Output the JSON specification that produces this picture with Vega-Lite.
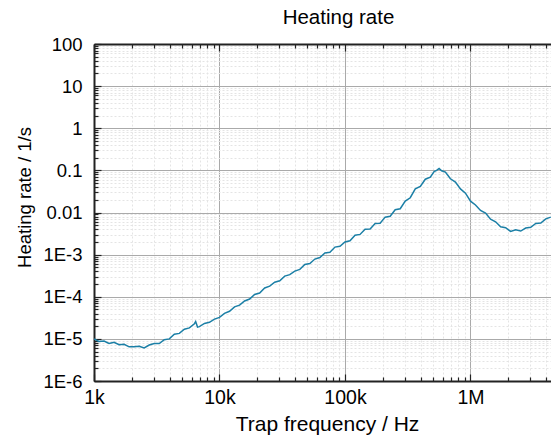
{
  "$schema": "https://vega.github.io/schema/vega-lite/v6.json",
  "width": 457,
  "height": 337,
  "autosize": {"type": "none"},
  "padding": {"left": 94, "top": 44, "right": 0, "bottom": 56},
  "background": "white",
  "title": {"text": "Heating rate", "font": "Liberation Sans", "fontSize": 20.5, "fontWeight": "normal", "color": "#000000", "anchor": "middle", "frame": "group", "dx": 16, "offset": 7},
  "config": {"view": {"stroke": null}},
  "data": {"values": [
    {"f": 1000, "r": 1.0e-5}, {"f": 1096, "r": 8.71e-6}, {"f": 1202, "r": 8.91e-6}, {"f": 1318, "r": 7.76e-6},
    {"f": 1445, "r": 8.32e-6}, {"f": 1585, "r": 7.24e-6}, {"f": 1738, "r": 7.41e-6}, {"f": 1905, "r": 6.46e-6},
    {"f": 2089, "r": 6.46e-6}, {"f": 2291, "r": 6.68e-6}, {"f": 2512, "r": 6.10e-6}, {"f": 2754, "r": 7.16e-6},
    {"f": 3020, "r": 7.76e-6}, {"f": 3311, "r": 7.76e-6}, {"f": 3631, "r": 9.55e-6}, {"f": 3981, "r": 1.0e-5},
    {"f": 4365, "r": 1.29e-5}, {"f": 4786, "r": 1.35e-5}, {"f": 5248, "r": 1.70e-5}, {"f": 5754, "r": 1.82e-5},
    {"f": 6310, "r": 2.29e-5}, {"f": 6457, "r": 2.57e-5}, {"f": 6683, "r": 1.91e-5}, {"f": 6918, "r": 1.95e-5},
    {"f": 7586, "r": 2.32e-5}, {"f": 8318, "r": 2.48e-5}, {"f": 9120, "r": 2.95e-5}, {"f": 10000, "r": 3.24e-5},
    {"f": 10960, "r": 4.03e-5}, {"f": 12020, "r": 4.52e-5}, {"f": 13180, "r": 5.75e-5}, {"f": 14450, "r": 6.31e-5},
    {"f": 15850, "r": 7.94e-5}, {"f": 17380, "r": 8.81e-5}, {"f": 19050, "r": 1.135e-4}, {"f": 20890, "r": 1.23e-4},
    {"f": 22910, "r": 1.62e-4}, {"f": 25120, "r": 1.78e-4}, {"f": 27540, "r": 2.21e-4}, {"f": 30200, "r": 2.40e-4},
    {"f": 33110, "r": 3.09e-4}, {"f": 36310, "r": 3.35e-4}, {"f": 39810, "r": 4.07e-4}, {"f": 43650, "r": 4.47e-4},
    {"f": 47860, "r": 5.82e-4}, {"f": 52480, "r": 6.17e-4}, {"f": 57540, "r": 7.85e-4}, {"f": 63100, "r": 8.51e-4},
    {"f": 69180, "r": 1.096e-3}, {"f": 75860, "r": 1.135e-3}, {"f": 83180, "r": 1.51e-3}, {"f": 91200, "r": 1.585e-3},
    {"f": 100000, "r": 2.0e-3}, {"f": 109600, "r": 2.14e-3}, {"f": 120200, "r": 2.88e-3}, {"f": 131800, "r": 3.02e-3},
    {"f": 144500, "r": 4.03e-3}, {"f": 158500, "r": 4.07e-3}, {"f": 173800, "r": 5.50e-3}, {"f": 190500, "r": 5.56e-3},
    {"f": 208900, "r": 7.76e-3}, {"f": 229100, "r": 8.13e-3}, {"f": 251200, "r": 1.16e-2}, {"f": 275400, "r": 1.23e-2},
    {"f": 302000, "r": 1.86e-2}, {"f": 331100, "r": 2.24e-2}, {"f": 363100, "r": 3.63e-2}, {"f": 398100, "r": 4.17e-2},
    {"f": 436500, "r": 6.17e-2}, {"f": 478600, "r": 6.92e-2}, {"f": 512900, "r": 9.33e-2}, {"f": 537000, "r": 0.100},
    {"f": 562300, "r": 0.111}, {"f": 588800, "r": 0.0977}, {"f": 631000, "r": 0.0912}, {"f": 691800, "r": 0.0631},
    {"f": 758600, "r": 0.0525}, {"f": 831800, "r": 0.0363}, {"f": 912000, "r": 0.0288}, {"f": 1000000, "r": 0.0186},
    {"f": 1096000, "r": 0.0151}, {"f": 1202000, "r": 0.0112}, {"f": 1318000, "r": 9.66e-3}, {"f": 1445000, "r": 6.92e-3},
    {"f": 1585000, "r": 6.03e-3}, {"f": 1738000, "r": 4.57e-3}, {"f": 1905000, "r": 4.37e-3}, {"f": 2089000, "r": 3.55e-3},
    {"f": 2291000, "r": 3.89e-3}, {"f": 2512000, "r": 3.63e-3}, {"f": 2754000, "r": 4.27e-3}, {"f": 3020000, "r": 4.47e-3},
    {"f": 3311000, "r": 5.50e-3}, {"f": 3631000, "r": 5.62e-3}, {"f": 3981000, "r": 7.08e-3}, {"f": 4365000, "r": 7.76e-3}
  ]},
  "resolve": {"axis": {"x": "independent", "y": "independent"}},
  "layer": [
    {
      "mark": {"type": "line", "color": "#1b7fa6", "strokeWidth": 1.5, "clip": true},
      "encoding": {
        "x": {
          "field": "f", "type": "quantitative",
          "scale": {"type": "log", "domain": [1000, 4380000], "nice": false},
          "axis": {
            "orient": "bottom",
            "values": [1000, 2000, 3000, 4000, 5000, 6000, 7000, 8000, 9000, 10000, 20000, 30000, 40000, 50000, 60000, 70000, 80000, 90000, 100000, 200000, 300000, 400000, 500000, 600000, 700000, 800000, 900000, 1000000, 2000000, 3000000, 4000000],
            "labelExpr": "abs(log(datum.value)/LN10 - round(log(datum.value)/LN10)) > 0.001 ? '' : (round(log(datum.value)/LN10) == 3 ? '1k' : round(log(datum.value)/LN10) == 4 ? '10k' : round(log(datum.value)/LN10) == 5 ? '100k' : '1M')",
            "grid": true,
            "gridColor": {"condition": {"test": "abs(log(datum.value)/LN10 - round(log(datum.value)/LN10)) < 0.001", "value": "#aaaaaa"}, "value": "#e4e4e4"},
            "gridDash": {"condition": {"test": "abs(log(datum.value)/LN10 - round(log(datum.value)/LN10)) < 0.001", "value": []}, "value": [2, 2]},
            "gridWidth": 1,
            "tickSize": {"condition": {"test": "abs(log(datum.value)/LN10 - round(log(datum.value)/LN10)) < 0.001", "value": -7}, "value": -4},
            "tickColor": "#222222", "tickWidth": 1.2,
            "domainColor": "#222222", "domainWidth": 2,
            "labelFont": "Liberation Sans", "labelFontSize": 19.5, "labelColor": "#000000", "labelPadding": 14,
            "labelFlush": false, "labelOverlap": false,
            "title": "Trap frequency / Hz", "titleFont": "Liberation Sans", "titleFontSize": 21, "titleFontWeight": "normal", "titleColor": "#000000",
            "titleX": 233, "titleY": 49, "titleAlign": "center", "titleBaseline": "alphabetic"
          }
        },
        "y": {
          "field": "r", "type": "quantitative",
          "scale": {"type": "log", "domain": [0.000001, 100], "nice": false},
          "axis": {
            "orient": "left",
            "values": [0.000001, 0.000002, 0.000003, 0.000004, 0.000005, 0.000006, 0.000007, 0.000008, 0.000009, 0.00001, 0.00002, 0.00003, 0.00004, 0.00005, 0.00006, 0.00007, 0.00008, 0.00009, 0.0001, 0.0002, 0.0003, 0.0004, 0.0005, 0.0006, 0.0007, 0.0008, 0.0009, 0.001, 0.002, 0.003, 0.004, 0.005, 0.006, 0.007, 0.008, 0.009, 0.01, 0.02, 0.03, 0.04, 0.05, 0.06, 0.07, 0.08, 0.09, 0.1, 0.2, 0.3, 0.4, 0.5, 0.6, 0.7, 0.8, 0.9, 1, 2, 3, 4, 5, 6, 7, 8, 9, 10, 20, 30, 40, 50, 60, 70, 80, 90, 100],
            "labelExpr": "abs(log(datum.value)/LN10 - round(log(datum.value)/LN10)) > 0.001 ? '' : (round(log(datum.value)/LN10) < -2 ? '1E' + round(log(datum.value)/LN10) : round(log(datum.value)/LN10) == -2 ? '0.01' : round(log(datum.value)/LN10) == -1 ? '0.1' : round(log(datum.value)/LN10) == 0 ? '1' : round(log(datum.value)/LN10) == 1 ? '10' : '100')",
            "grid": true,
            "gridColor": {"condition": {"test": "abs(log(datum.value)/LN10 - round(log(datum.value)/LN10)) < 0.001", "value": "#aaaaaa"}, "value": "#e4e4e4"},
            "gridDash": {"condition": {"test": "abs(log(datum.value)/LN10 - round(log(datum.value)/LN10)) < 0.001", "value": []}, "value": [2, 2]},
            "gridWidth": 1,
            "tickSize": {"condition": {"test": "abs(log(datum.value)/LN10 - round(log(datum.value)/LN10)) < 0.001", "value": -7}, "value": -4},
            "tickColor": "#222222", "tickWidth": 1.2,
            "domainColor": "#222222", "domainWidth": 2,
            "labelFont": "Liberation Sans", "labelFontSize": 18.5, "labelColor": "#000000", "labelPadding": 19,
            "labelFlush": false, "labelOverlap": false, "labelBaseline": "middle",
            "title": "Heating rate / 1/s", "titleFont": "Liberation Sans", "titleFontSize": 18.5, "titleFontWeight": "normal", "titleColor": "#000000",
            "titleAngle": -90, "titleX": -70, "titleY": 153, "titleAlign": "center", "titleBaseline": "middle"
          }
        }
      }
    },
    {
      "mark": {"type": "line", "strokeOpacity": 0, "clip": true},
      "encoding": {
        "x": {
          "field": "f", "type": "quantitative",
          "scale": {"type": "log", "domain": [1000, 4380000], "nice": false},
          "axis": {
            "orient": "top",
            "values": [1000, 2000, 3000, 4000, 5000, 6000, 7000, 8000, 9000, 10000, 20000, 30000, 40000, 50000, 60000, 70000, 80000, 90000, 100000, 200000, 300000, 400000, 500000, 600000, 700000, 800000, 900000, 1000000, 2000000, 3000000, 4000000],
            "labels": false, "grid": false,
            "tickSize": {"condition": {"test": "abs(log(datum.value)/LN10 - round(log(datum.value)/LN10)) < 0.001", "value": -7}, "value": -4},
            "tickColor": "#222222", "tickWidth": 1.2,
            "domainColor": "#222222", "domainWidth": 2,
            "title": null
          }
        },
        "y": {
          "field": "r", "type": "quantitative",
          "scale": {"type": "log", "domain": [0.000001, 100], "nice": false},
          "axis": null
        }
      }
    }
  ]
}
